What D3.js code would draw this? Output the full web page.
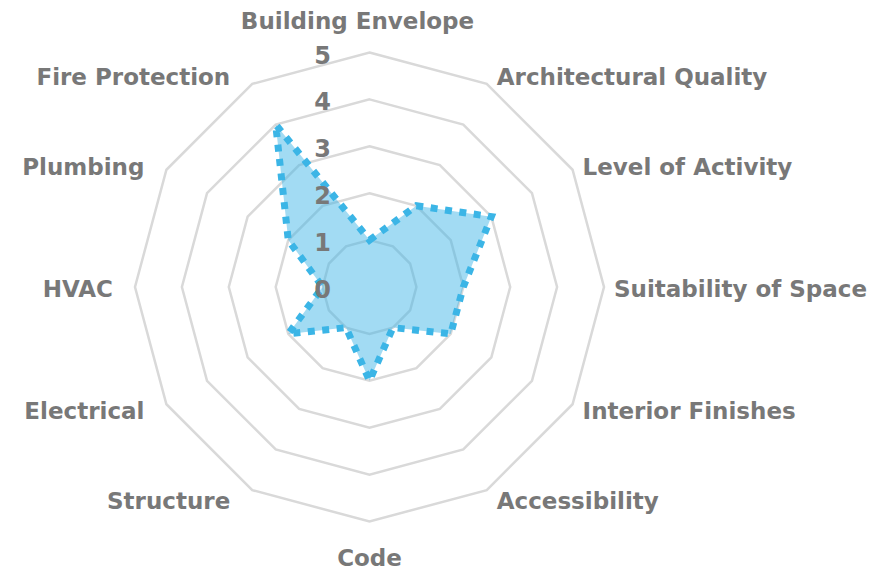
<!DOCTYPE html>
<html>
<head>
<meta charset="utf-8">
<script src="https://cdn.jsdelivr.net/npm/d3@7"></script>
<style>
  body { margin: 0; background: #fff; }
  text { font-family: "DejaVu Sans", sans-serif; font-weight: bold; fill: #787878; }
</style>
</head>
<body>
<div id="chart"></div>
<script>
const axes = [
  "Building Envelope", "Architectural Quality", "Level of Activity",
  "Suitability of Space", "Interior Finishes", "Accessibility", "Code",
  "Structure", "Electrical", "HVAC", "Plumbing", "Fire Protection"
];
const values = [1, 2, 3, 2, 2, 1, 2, 1, 2, 1, 2, 4];
const ticks = [0, 1, 2, 3, 4, 5];

const width = 894, height = 572;
const cx = 369.5, cy = 287, R = 234.5;

const svg = d3.select("#chart").append("svg")
  .attr("width", width)
  .attr("height", height);

const g = svg.append("g").attr("transform", `translate(${cx},${cy})`);

const r = d3.scaleLinear().domain([0, 5]).range([0, R]);
const angle = d3.scalePoint().domain(axes).range([0, 2 * Math.PI * (axes.length - 1) / axes.length]);

// grid rings
const ring = d3.lineRadial()
  .angle(d => angle(d))
  .curve(d3.curveLinearClosed);

g.selectAll(".ring")
  .data(ticks.filter(t => t > 0))
  .join("path")
  .attr("class", "ring")
  .attr("d", t => ring.radius(() => r(t))(axes))
  .attr("fill", "none")
  .attr("stroke", "#d9d9d9")
  .attr("stroke-width", 2.5);

// series
const area = d3.lineRadial()
  .angle((d, i) => angle(axes[i]))
  .radius(d => r(d))
  .curve(d3.curveLinearClosed);

g.append("path")
  .attr("d", area(values))
  .attr("fill", "#3cb4e5")
  .attr("fill-opacity", 0.48)
  .attr("stroke", "none");

g.append("path")
  .attr("d", area(values))
  .attr("fill", "none")
  .attr("stroke", "#3bb5e6")
  .attr("stroke-width", 7)
  .attr("stroke-dasharray", "7,7.5");

// tick labels
g.selectAll(".tick")
  .data(ticks)
  .join("text")
  .attr("class", "tick")
  .attr("x", -r(1))
  .attr("y", t => -r(t) + 3)
  .attr("text-anchor", "middle")
  .attr("dominant-baseline", "central")
  .style("font-size", "24px")
  .text(t => t);

// axis labels
g.selectAll(".label")
  .data(axes)
  .join("text")
  .attr("class", "label")
  .each(function(d) {
    const a = angle(d);
    const s = Math.sin(a), c = Math.cos(a);
    let x = R * s, y = -(R + 10) * c + 2, anchor = "middle";
    if (s > 0.1) { x += 10; anchor = "start"; }
    else if (s < -0.1) { x -= 22; anchor = "end"; }
    else { y += c > 0 ? -24 : 24; if (c > 0) x -= 12; }
    d3.select(this)
      .attr("x", x)
      .attr("y", y)
      .attr("text-anchor", anchor);
  })
  .attr("dominant-baseline", "central")
  .style("font-size", "23px")
  .text(d => d);
</script>
</body>
</html>
